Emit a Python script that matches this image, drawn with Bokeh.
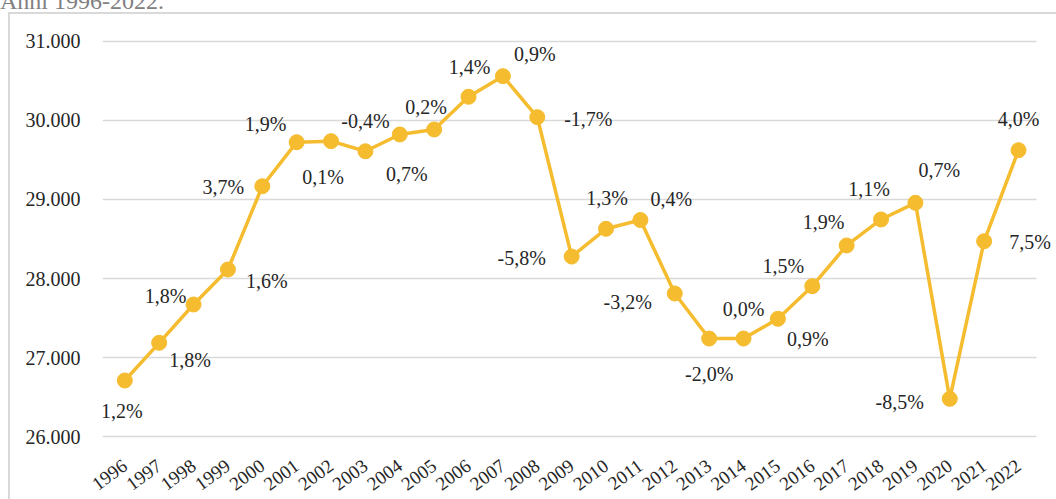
from bokeh.plotting import figure
from bokeh.models import ColumnDataSource, Range1d, FixedTicker, Div
from bokeh.layouts import column
from bokeh.core.properties import value
from bokeh.embed import file_html
from bokeh.resources import INLINE

# ---- data ----
years = list(range(1996, 2023))
values = [26709, 27186, 27671, 28114, 29168, 29725, 29738, 29610, 29823, 29886,
          30300, 30561, 30042, 28278, 28629, 28740, 27810, 27240, 27240, 27490,
          27903, 28418, 28747, 28958, 26477, 28472, 29624]
pct_labels = ["1,2%", "1,8%", "1,8%", "1,6%", "3,7%", "1,9%", "0,1%", "-0,4%", "0,7%",
              "0,2%", "1,4%", "0,9%", "-1,7%", "-5,8%", "1,3%", "0,4%", "-3,2%", "-2,0%",
              "0,0%", "0,9%", "1,5%", "1,9%", "1,1%", "0,7%", "-8,5%", "7,5%", "4,0%"]
y_ticks = [26000, 27000, 28000, 29000, 30000, 31000]
y_tick_labels = ["26.000", "27.000", "28.000", "29.000", "30.000", "31.000"]
title_text = "Anni 1996-2022."

# ---- label placement (screen px offsets from each point) ----
lab_dx = [-3, 31, -28, 39, -39, -31, -8, 0, 7, -8, 1, 32, 51, -50, 1, 31, -47, 0, 0, 30,
          -29, -23, -12, 24, -50, 46, 0]
lab_dy = [30, 17, -8, 12, 1, -18, 36, -30, 40, -22, -30, -22, 2, 1, -31, -21, 8, 35, -30, 20,
          -20, -23, -30, -33, 3, 1, -31]

GOLD = "#F5BC2F"
TXT = "#262626"
FONT = "Liberation Serif"

X0, X1 = 1995.351, 2023.105      # frame extent
GX1 = 2022.524                    # where the gridlines stop

title_div = Div(
    text=("<div style=\"position:relative; top:-11px; font-family:'Liberation Serif', serif; "
          "font-size:24px; line-height:24px; color:#808080; white-space:nowrap;\">"
          + title_text + "</div>"),
    width=300, height=10, margin=(0, 0, 0, 0),
    styles={"overflow": "hidden"})

p = figure(width=1056, height=489, output_backend="svg", toolbar_location=None,
           x_range=Range1d(X0, X1), y_range=Range1d(25835.9, 31265.2),
           min_border_left=102, min_border_right=0, min_border_top=10, min_border_bottom=49,
           title=None, margin=(0, 0, 0, 0))
p.styles = {
    "background-image": "linear-gradient(#d9d9d9,#d9d9d9), linear-gradient(#d9d9d9,#d9d9d9)",
    "background-repeat": "no-repeat",
    "background-position": "8px 2px, 8px 2px",
    "background-size": "2px 100%, 100% 2px",
}
p.outline_line_color = None
p.background_fill_color = "white"
p.border_fill_alpha = 0

p.xgrid.grid_line_color = None
p.ygrid.grid_line_color = None

p.yaxis.ticker = FixedTicker(ticks=y_ticks)
p.yaxis.major_label_overrides = {t: l for t, l in zip(y_ticks, y_tick_labels)}
p.xaxis.ticker = FixedTicker(ticks=years)
p.xaxis.major_label_overrides = {y: str(y) for y in years}
p.xaxis.major_label_orientation = 0.63
for ax in (p.xaxis, p.yaxis):
    ax.axis_line_color = None
    ax.major_tick_line_color = None
    ax.minor_tick_line_color = None
    ax.major_label_text_color = TXT
    ax.major_label_text_font = FONT
p.yaxis.major_label_text_font_size = "20px"
p.yaxis.major_label_standoff = 16
p.xaxis.major_label_text_font_size = "19px"
p.xaxis.major_label_standoff = 8

# horizontal gridlines at the y ticks
p.segment(x0=[X0] * len(y_ticks), x1=[GX1] * len(y_ticks), y0=y_ticks, y1=y_ticks,
          line_color="#d9d9d9", line_width=1.5)

src = ColumnDataSource(dict(x=years, y=values, t=pct_labels, dx=lab_dx, dy=lab_dy))
p.line("x", "y", source=src, line_color=GOLD, line_width=3.5)
p.scatter("x", "y", source=src, size=15, fill_color=GOLD, line_color=GOLD)
p.text("x", "y", text="t", source=src, x_offset="dx", y_offset="dy",
       text_align="center", text_baseline="middle", text_font=value(FONT),
       text_font_size="20px", text_color=TXT)

layout = column(title_div, p, spacing=0)
open("out.html", "w").write(file_html(layout, INLINE))
